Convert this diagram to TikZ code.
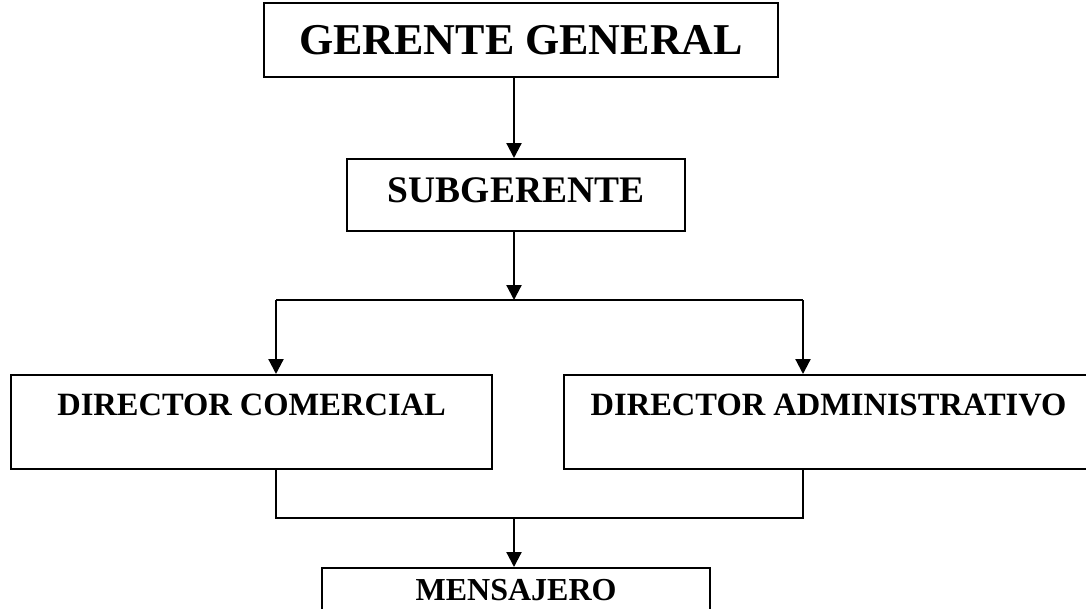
\documentclass[tikz,border=0pt]{standalone}
\usepackage{fontspec}
\setmainfont{Liberation Serif}
\usetikzlibrary{arrows.meta}

\begin{document}
\begin{tikzpicture}[x=1pt, y=-1pt,
	cargo/.style={draw, line width=2.2pt, inner xsep=0pt, inner ysep=0pt, anchor=north west},
	flecha/.style={line width=2.2pt, -{Triangle[length=15pt,width=15pt]}},
	linea/.style={line width=2.2pt},]

\useasboundingbox (0,0) rectangle (1086,608);

\node[cargo, minimum width=514pt, text height=51pt, text depth=23pt, font=\fontsize{44}{48}\selectfont\bfseries] (gerente) at (263,2) {GERENTE GENERAL};
\node[cargo, minimum width=338pt, text height=43pt, text depth=29pt, font=\fontsize{37.5}{40}\selectfont\bfseries] (subgerente) at (346,158) {SUBGERENTE};
\node[cargo, minimum width=481pt, text height=40pt, text depth=54pt, font=\fontsize{32.5}{36}\selectfont\bfseries] (comercial) at (10,374) {DIRECTOR COMERCIAL};
\node[cargo, minimum width=529pt, text height=40pt, text depth=54pt, font=\fontsize{32.5}{36}\selectfont\bfseries] (administrativo) at (563,374) {DIRECTOR ADMINISTRATIVO};
\node[cargo, minimum width=388pt, text height=32pt, text depth=40pt, font=\fontsize{32}{36}\selectfont\bfseries] (mensajero) at (321,567) {MENSAJERO};

% ramas
\coordinate (reparto) at (514,300);
\coordinate (izq) at (276,300);
\coordinate (der) at (803,300);
\coordinate (union) at (514,518);
\coordinate (izqb) at (276,518);
\coordinate (derb) at (803,518);

\draw[flecha] (gerente.south -| reparto) -- (subgerente.north -| reparto);
\draw[flecha] (subgerente.south -| reparto) -- (reparto);
\draw[linea] (izq) -- (der);
\draw[flecha] (izq) -- (izq |- comercial.north);
\draw[flecha] (der) -- (der |- administrativo.north);
\draw[linea] (izq |- comercial.south) -- (izqb) -- (derb) -- (der |- administrativo.south);
\draw[flecha] (union) -- (mensajero.north -| union);

\end{tikzpicture}
\end{document}
